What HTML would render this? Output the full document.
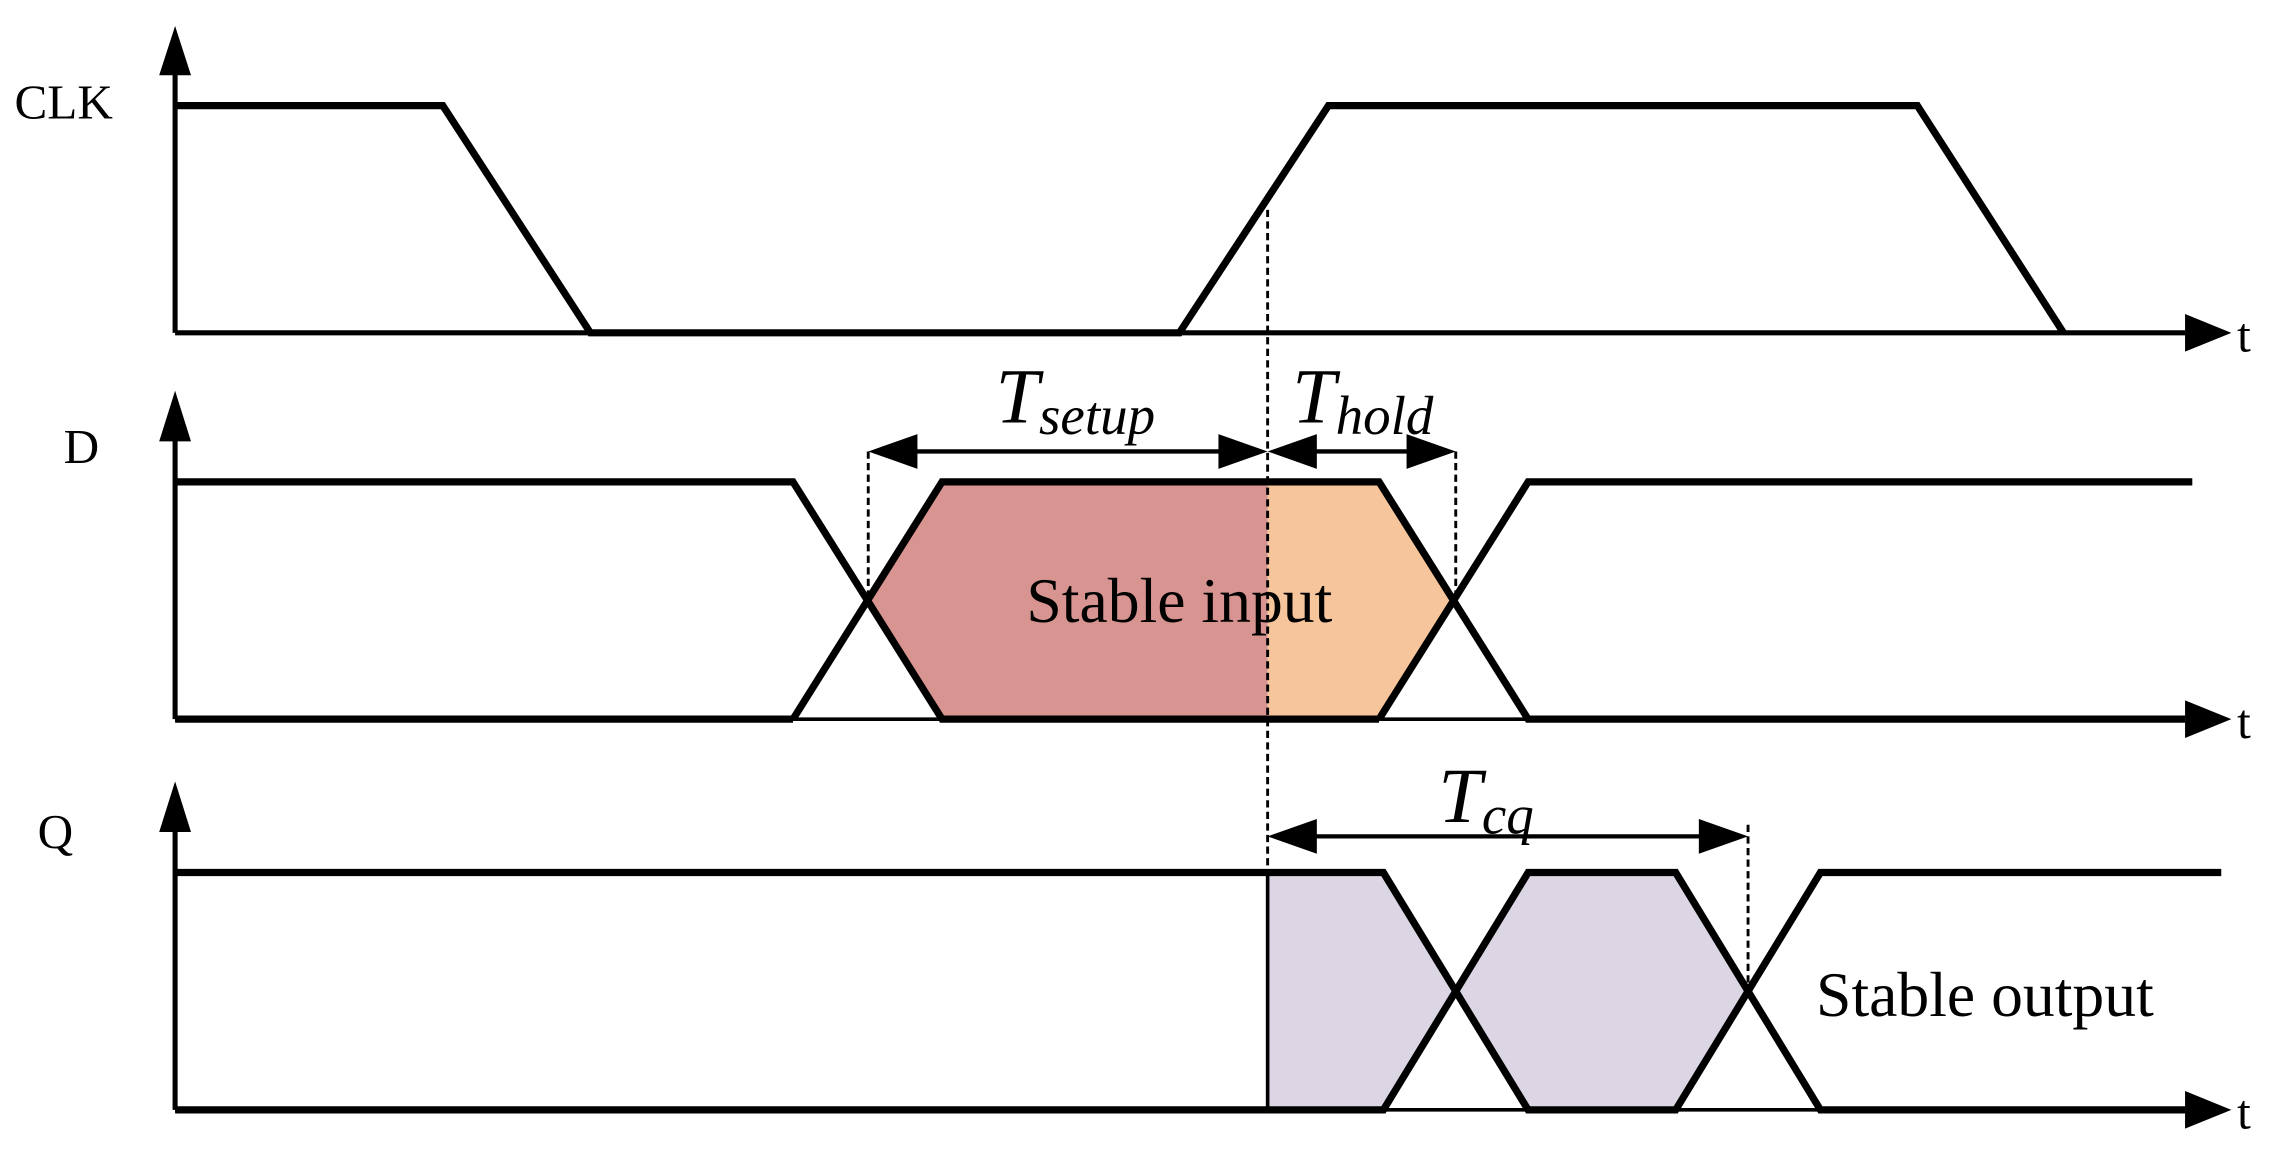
<!DOCTYPE html>
<html><head><meta charset="utf-8"><style>
html,body{margin:0;padding:0;background:#fff;}
svg{display:block;}
text{font-family:"Liberation Serif",serif;fill:#000;}
</style></head><body>
<svg width="2269" height="1154" viewBox="0 0 1568 797.5" preserveAspectRatio="none" xmlns="http://www.w3.org/2000/svg">
<defs>
<marker id="ah" markerWidth="12" markerHeight="8" refX="11" refY="4" orient="auto" markerUnits="userSpaceOnUse" viewBox="0 0 12 8"></marker>
</defs>
<!-- fills -->
<polygon points="600,415 651,333 876,333 876,497 651,497" fill="#d89490"/>
<polygon points="876,333 953,333 1004,415 953,497 876,497" fill="#f7c59b"/>
<polygon points="876,603 956,603 1006,685 956,767 876,767" fill="#dcd6e4"/>
<polygon points="1006,685 1056,603 1158,603 1208,685 1158,767 1056,767" fill="#dcd6e4"/>

<g stroke="#000" fill="none" stroke-linejoin="miter">
<!-- axes -->
<line x1="121" y1="230" x2="121" y2="45" stroke-width="3.5"/>
<line x1="121" y1="497" x2="121" y2="300" stroke-width="3.5"/>
<line x1="121" y1="767" x2="121" y2="570" stroke-width="3.5"/>
<line x1="121" y1="230" x2="1510" y2="230" stroke-width="3.5"/>
<line x1="121" y1="497" x2="1510" y2="497" stroke-width="2.5"/>
<line x1="121" y1="767" x2="1510" y2="767" stroke-width="2.5"/>
<!-- CLK -->
<polyline points="121,73 306,73 408,230 815,230 918,73 1325,73 1426,230" stroke-width="5"/>
<!-- D -->
<polyline points="121,333 548,333 651,497 953,497" stroke-width="5"/>
<polyline points="121,497 548,497" stroke-width="5"/>
<polyline points="548,497 651,333 953,333 1056,497 1510,497" stroke-width="5"/>
<polyline points="953,497 1056,333 1515,333" stroke-width="5"/>
<!-- Q -->
<polyline points="121,603 876,603 956,603 1056,767 1158,767 1258,603 1535,603" stroke-width="5"/>
<polyline points="121,767 956,767 1056,603 1158,603 1258,767 1510,767" stroke-width="5"/>
<line x1="876" y1="603" x2="876" y2="767" stroke-width="2.5"/>
<line x1="956" y1="603" x2="956" y2="603" stroke-width="5"/>
<!-- dimension lines -->
<line x1="630" y1="312" x2="846" y2="312" stroke-width="3"/>
<line x1="906" y1="312" x2="976" y2="312" stroke-width="3"/>
<line x1="906" y1="578" x2="1178" y2="578" stroke-width="3"/>
<!-- dashed -->
<g stroke-width="2" stroke-dasharray="5,3">
<line x1="876" y1="145" x2="876" y2="767"/>
<line x1="600" y1="312" x2="600" y2="415"/>
<line x1="1006" y1="312" x2="1006" y2="415"/>
<line x1="1208" y1="570" x2="1208" y2="685"/>
</g>
</g>
<!-- arrowheads -->
<g fill="#000">
<polygon points="121,18 110,52 132,52"/>
<polygon points="121,270 110,305 132,305"/>
<polygon points="121,540 110,575 132,575"/>
<polygon points="1542,230 1510,217 1510,243"/>
<polygon points="1542,497 1510,484 1510,510"/>
<polygon points="1542,767 1510,754 1510,780"/>
<polygon points="600,312 634,300 634,324"/>
<polygon points="876,312 842,300 842,324"/>
<polygon points="876,312 910,300 910,324"/>
<polygon points="1006,312 972,300 972,324"/>
<polygon points="876,578 910,566 910,590"/>
<polygon points="1208,578 1174,566 1174,590"/>
</g>
<!-- labels -->
<text x="10" y="82" font-size="34">CLK</text>
<text x="44" y="320" font-size="34">D</text>
<text x="26" y="586" font-size="34">Q</text>
<text x="1546" y="243" font-size="34">t</text>
<text x="1546" y="510" font-size="34">t</text>
<text x="1546" y="780" font-size="34">t</text>
<text x="688" y="292" font-size="54" font-style="italic">T<tspan font-size="38" dy="8">setup</tspan></text>
<text x="893" y="292" font-size="54" font-style="italic">T<tspan font-size="38" dy="8">hold</tspan></text>
<text x="994" y="568" font-size="54" font-style="italic">T<tspan font-size="38" dy="8">cq</tspan></text>
<text x="815" y="430" font-size="44" text-anchor="middle">Stable input</text>
<text x="1255" y="702" font-size="44">Stable output</text>
</svg>
</body></html>
